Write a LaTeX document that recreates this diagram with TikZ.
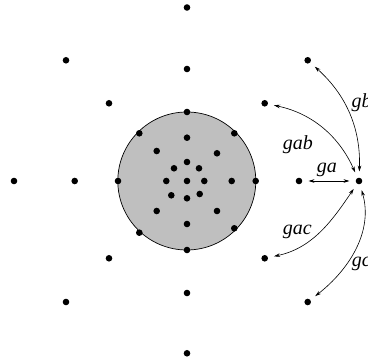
\documentclass[tikz,border=0pt]{standalone}
\usepackage{fontspec}
\setmainfont{Liberation Serif}
\usetikzlibrary{arrows.meta}
\begin{document}
\begin{tikzpicture}[x=1pt,y=1pt,
  dot/.style={circle,fill=black,inner sep=0pt,minimum size=6.6pt},
  lbl/.style={inner sep=0pt,anchor=base west,font=\fontsize{20}{24}\selectfont\itshape},
  arr/.style={{Stealth[length=6pt,width=3.6pt]}-{Stealth[length=6pt,width=3.6pt]},line width=0.6pt,shorten <=6pt,shorten >=6pt}]
\useasboundingbox (0,0) rectangle (368,361);
\clip (0,0) rectangle (368,361);
\filldraw[fill=black!25,draw=black,line width=0.7pt] (186.8,180) circle (69);
% centre and inner ring
\node[dot] (c0) at (187,180) {};
\node[dot] (i1) at (187,199) {};
\node[dot] (i2) at (199,192.7) {};
\node[dot] (i3) at (204.3,180) {};
\node[dot] (i4) at (199.7,167) {};
\node[dot] (i5) at (187,162.7) {};
\node[dot] (i6) at (171.3,165.7) {};
\node[dot] (i7) at (166.3,180) {};
\node[dot] (i8) at (174,192.7) {};
% middle ring
\node[dot] (m1) at (187,223.3) {};
\node[dot] (m2) at (217,207.7) {};
\node[dot] (m3) at (231.7,180) {};
\node[dot] (m4) at (217,150) {};
\node[dot] (m5) at (187,137) {};
\node[dot] (m6) at (156.7,150) {};
\node[dot] (m8) at (156.7,210) {};
% boundary
\node[dot] (b1) at (187,249) {};
\node[dot] (b2) at (234.3,227.7) {};
\node[dot] (b3) at (255.7,180) {};
\node[dot] (b4) at (234.3,132.7) {};
\node[dot] (b5) at (187,111) {};
\node[dot] (b6) at (139.3,128.3) {};
\node[dot] (b7) at (118,180) {};
\node[dot] (b8) at (139.3,227.7) {};
% outer
\node[dot] (o1) at (187,292) {};
\node[dot] (o2) at (187,353.5) {};
\node[dot] (o3) at (187,68) {};
\node[dot] (o4) at (187,7.7) {};
\node[dot] (o5) at (109,257.7) {};
\node[dot] (o6) at (66,300.7) {};
\node[dot] (o7) at (109,102.7) {};
\node[dot] (o8) at (66,59) {};
\node[dot] (o9) at (74.7,180) {};
\node[dot] (o10) at (14,180) {};
\node[dot] (o11) at (264.7,257.7) {};
\node[dot] (o12) at (307.7,300.7) {};
\node[dot] (o13) at (299,180) {};
\node[dot] (o14) at (264.7,102.7) {};
\node[dot] (o15) at (307.7,59) {};
\node[dot] (R) at (359,180) {};
% arrows
\draw[arr] (R) to[out=88,in=-42] (o12);
\draw[arr] (R) to[out=114,in=-12] (o11);
\draw[arr] (R) -- (o13);
\draw[arr] (R) to[out=-124,in=12] (o14);
\draw[arr] (R) to[out=-74,in=38] (o15);
% labels
\node[lbl] (lgb) at (351.5,253) {gb};
\node[lbl] (lgab) at (282.7,211) {gab};
\node[lbl] (lga) at (316.7,188.5) {ga};
\node[lbl] (lgac) at (282.7,126) {gac};
\node[lbl] (lgc) at (351.7,94) {gc};
\end{tikzpicture}
\end{document}
